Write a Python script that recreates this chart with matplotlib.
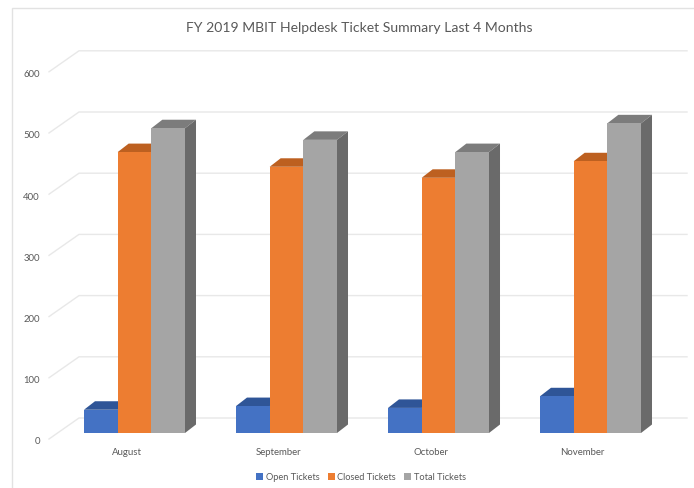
import matplotlib
matplotlib.use("Agg")
import matplotlib.pyplot as plt
from matplotlib.patches import Patch, Polygon, Rectangle
from matplotlib.transforms import ScaledTranslation

plt.rcParams['font.family'] = ['Lato', 'DejaVu Sans']

# Ticket counts per month
months = ["August", "September", "October", "November"]
open_tickets = [38, 44, 41, 60]
closed_tickets = [459, 435, 417, 444]
total_tickets = [498, 479, 459, 506]
y_ticks = [0, 100, 200, 300, 400, 500, 600]

series_names = ["Open Tickets", "Closed Tickets", "Total Tickets"]
series_values = [open_tickets, closed_tickets, total_tickets]
front_colors = ["#4472C4", "#ED7D31", "#A5A5A5"]
top_colors = ["#2F5597", "#BD6020", "#7C7C7C"]
side_colors = ["#2A4A85", "#A8551C", "#6A6A6A"]

W, H = 694, 488
fig = plt.figure(figsize=(W / 100, H / 100), dpi=100, facecolor="white")

# Axes frame in figure pixels: one category is 152 px, 100 tickets are 61.2 px
left, right, bottom, top = 58.5, 666.5, H - 433, H - 433 + 367.2
ax = fig.add_axes([left / W, bottom / H, (right - left) / W, (top - bottom) / H])
ax.set_xlim(-0.5, 3.5)
ax.set_ylim(0, 600)
ax.patch.set_visible(False)
for s in ax.spines.values():
    s.set_visible(False)

px_x = 4 / (right - left)   # data units per pixel, horizontal
px_y = 600 / (top - bottom)  # data units per pixel, vertical

# Oblique gridlines on the floor edge and back wall
for v in y_ticks:
    ax.plot([-0.5 - 9.5 * px_x, -0.5 + 20.5 * px_x, 3.5 + 20.5 * px_x],
            [v - 6 * px_y, v + 15 * px_y, v + 15 * px_y],
            color="#E8E8E8", lw=1.0, clip_on=False, zorder=1, solid_joinstyle="miter")

# Bars with oblique top and side faces
bar_w = 0.2215
depth_x, depth_y = 11 * px_x, 8.5 * px_y
for i in range(len(months)):
    for j, vals in enumerate(series_values):
        x0 = i + (j - 1.5) * bar_w
        x1 = x0 + bar_w
        v = vals[i]
        z = 3 + i * 3 + j * 3
        ax.bar(x0, v, width=bar_w, align="edge", color=front_colors[j], lw=0, zorder=z + 2)
        ax.add_patch(Polygon([(x0, v), (x1, v), (x1 + depth_x, v + depth_y), (x0 + depth_x, v + depth_y)],
                             closed=True, fc=top_colors[j], lw=0, zorder=z, clip_on=False))
        ax.add_patch(Polygon([(x1, 0), (x1 + depth_x, depth_y), (x1 + depth_x, v + depth_y), (x1, v)],
                             closed=True, fc=side_colors[j], lw=0, zorder=z + 1, clip_on=False))

# Axis labels
ax.set_yticks(y_ticks)
ax.tick_params(axis="y", length=0, pad=13.3, labelsize=6.9, labelcolor="#595959")
shift_y = ScaledTranslation(0, -8 / 100, fig.dpi_scale_trans)
for lab in ax.get_yticklabels():
    lab.set_transform(lab.get_transform() + shift_y)

ax.set_xticks(range(len(months)), months)
ax.tick_params(axis="x", length=0, pad=10.5, labelsize=6.9, labelcolor="#595959")
shift_x = ScaledTranslation(-8 / 100, 0, fig.dpi_scale_trans)
for lab in ax.get_xticklabels():
    lab.set_transform(lab.get_transform() + shift_x)

fig.text(359 / W, 1 - 27.5 / H, "FY 2019 MBIT Helpdesk Ticket Summary Last 4 Months",
         ha="center", va="center", fontsize=10.05, color="#595959")

handles = [Patch(fc=c, lw=0, label=n) for c, n in zip(front_colors, series_names)]
fig.legend(handles=handles, loc="center", bbox_to_anchor=(361 / W, 1 - 477 / H), ncol=3, frameon=False,
           fontsize=6.65, labelcolor="#595959", handlelength=0.75, handleheight=0.75,
           handletextpad=0.3, columnspacing=0.9, borderpad=0)

# Chart area outline
fig.add_artist(Rectangle((11.5 / W, -0.05), (W + 40) / W, 1 - 7.5 / H + 0.05, transform=fig.transFigure,
                         fc="none", ec="#E2E2E2", lw=1.0, zorder=0))

fig.savefig("out.png", dpi=100)
